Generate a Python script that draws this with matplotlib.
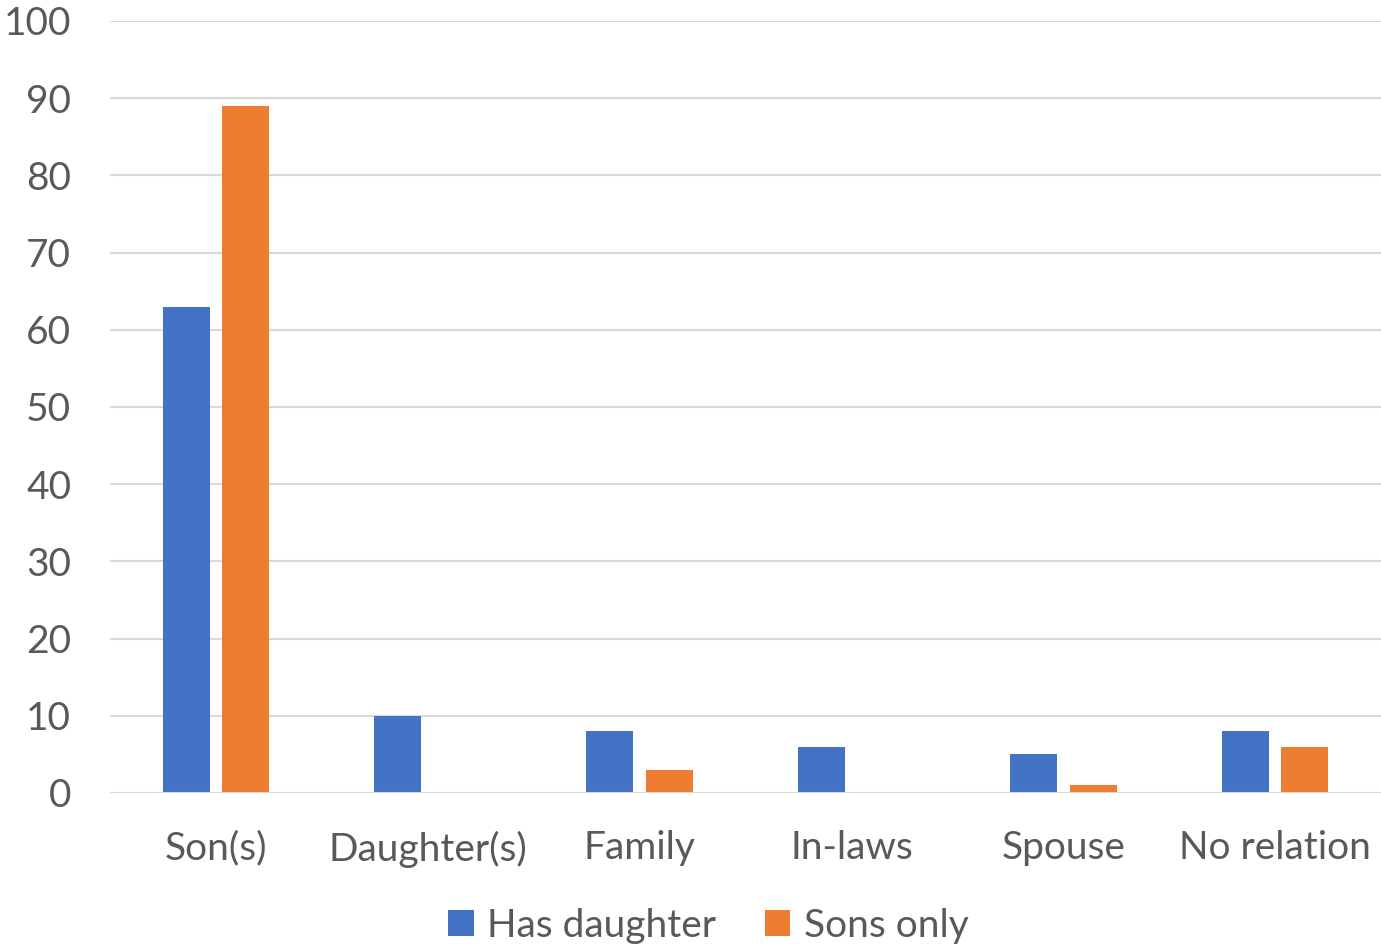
import matplotlib
matplotlib.use('Agg')
import matplotlib.pyplot as plt
import numpy as np

categories = ['Son(s)', 'Daughter(s)', 'Family', 'In-laws', 'Spouse', 'No relation']
has_daughter = [63, 10, 8, 6, 5, 8]
sons_only = [89, 0, 3, 0, 1, 6]
yticks = [0, 10, 20, 30, 40, 50, 60, 70, 80, 90, 100]

plt.rcParams['font.family'] = ['Lato', 'DejaVu Sans']
text_color = '#595959'

fig = plt.figure(figsize=(13.81, 9.44), dpi=100)
ax = fig.add_axes([0.0797, 0.16, 0.9203, 0.8178])

x = np.arange(len(categories))
width = 0.222
gap = 0.06
ax.bar(x - (width + gap) / 2, has_daughter, width, color='#4472C4', label='Has daughter', zorder=3)
ax.bar(x + (width + gap) / 2, sons_only, width, color='#ED7D31', label='Sons only', zorder=3)

ax.set_xlim(-0.5, len(categories) - 0.5)
ax.set_ylim(0, 100)
ax.set_yticks(yticks)
ax.set_xticks(x)
ax.set_xticklabels(categories)
ax.yaxis.grid(True, color='#D9D9D9', linewidth=1.5, zorder=0)
for s in ax.spines.values():
    s.set_visible(False)
ax.axhline(0, color='#D9D9D9', linewidth=1.5, zorder=4)
ax.tick_params(axis='both', length=0, labelsize=28, colors=text_color)
ax.tick_params(axis='y', pad=28)
ax.tick_params(axis='x', pad=27)

leg = fig.legend(loc='lower center', bbox_to_anchor=(0.513, -0.037), ncol=2, frameon=False,
                 fontsize=28, handlelength=0.65, handleheight=0.65, handletextpad=0.35,
                 columnspacing=1.25)
for t in leg.get_texts():
    t.set_color(text_color)

fig.savefig('out.png', dpi=100)
